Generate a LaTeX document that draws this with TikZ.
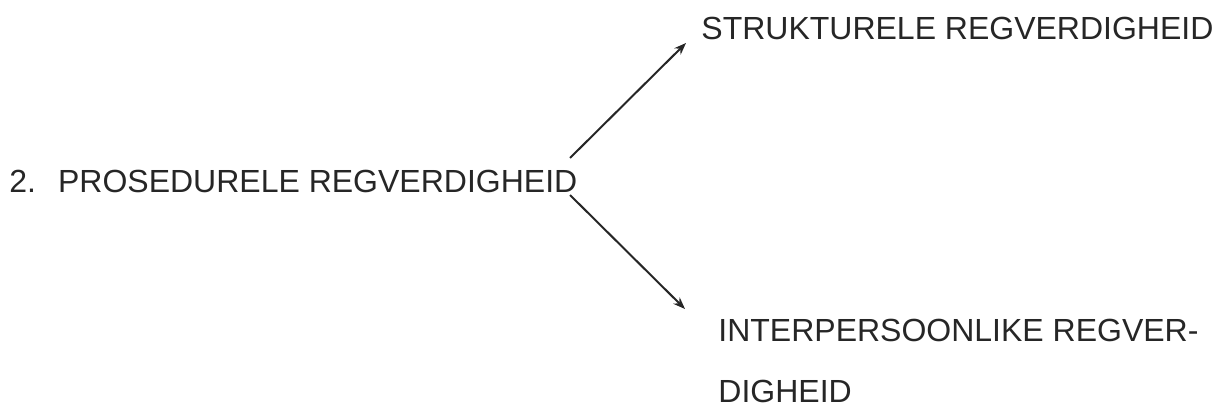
\documentclass[tikz,border=0pt]{standalone}
\usepackage{fontspec}
\setmainfont{Liberation Sans}
\usetikzlibrary{arrows.meta}
\begin{document}
\begin{tikzpicture}[x=0.5pt,y=-0.5pt,
  lbl/.style={anchor=base west,inner sep=0pt,text=black!85,font=\fontsize{16}{30.5}\selectfont},
  arr/.style={draw=black!85,line width=1pt,-{Stealth[length=6pt,width=4.5pt]}}]
\useasboundingbox (0,0) rectangle (1229,411);
\node[lbl] (main) at (9,192) {2.\hspace{11pt}PROSEDURELE REGVERDIGHEID};
\node[lbl] (top) at (701,40) {STRUKTURELE REGVERDIGHEID};
\node[lbl,align=left] (bot) at (718,402) {INTERPERSOONLIKE REGVER-\\DIGHEID};
\coordinate (s1) at (570,158);
\coordinate (e1) at (686,43);
\coordinate (s2) at (570,195);
\coordinate (e2) at (685,309);
\draw[arr] (s1) -- (e1);
\draw[arr] (s2) -- (e2);
\end{tikzpicture}
\end{document}
